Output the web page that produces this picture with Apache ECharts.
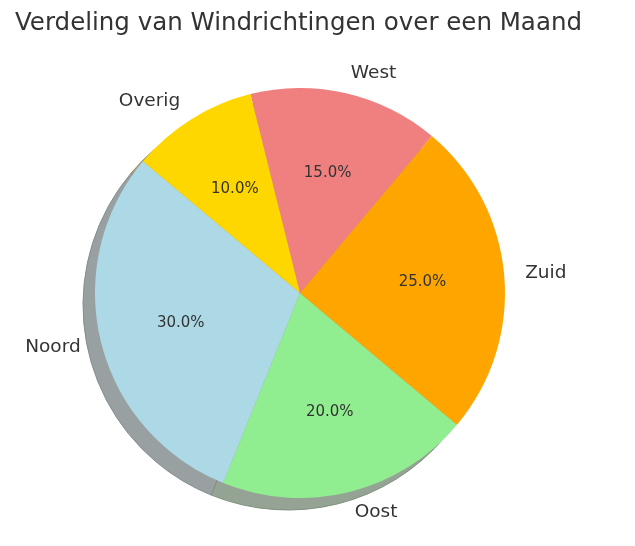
<!DOCTYPE html>
<html>
<head>
<meta charset="utf-8">
<script src="https://cdn.jsdelivr.net/npm/echarts@6/dist/echarts.min.js"></script>
<style>
html,body{margin:0;padding:0;background:#fff;}
#chart{width:635px;height:546px;}
</style>
</head>
<body>
<div id="chart"></div>
<script>
const titleText = 'Verdeling van Windrichtingen over een Maand';
const categories = ['Noord', 'Oost', 'Zuid', 'West', 'Overig'];
const values = [30, 20, 25, 15, 10];
const colors = ['#add8e6', '#90ee90', '#ffa500', '#f08080', '#ffd700'];

function shadeFill(hex) {
  const r = parseInt(hex.slice(1,3),16), g = parseInt(hex.slice(3,5),16), b = parseInt(hex.slice(5,7),16);
  const f = c => Math.round(c*0.3*0.5 + 255*0.5);
  return 'rgb(' + f(r) + ',' + f(g) + ',' + f(b) + ')';
}
function shadeEdge(hex) {
  const r = parseInt(hex.slice(1,3),16), g = parseInt(hex.slice(3,5),16), b = parseInt(hex.slice(5,7),16);
  const f = c => Math.round(c*0.3*0.6 + 255*0.4);
  return 'rgb(' + f(r) + ',' + f(g) + ',' + f(b) + ')';
}

const FONT = 'DejaVu Sans';
const cx = 300, cy = 293, R = 205;

const mainData = categories.map((n, i) => ({ name: n, value: values[i], itemStyle: { color: colors[i] } }));
const shadowData = categories.map((n, i) => ({ name: n, value: values[i], itemStyle: { color: shadeFill(colors[i]), borderColor: shadeEdge(colors[i]), borderWidth: 1 } }));
const pctData = categories.map((n, i) => ({ name: n, value: values[i] }));

const chart = echarts.init(document.getElementById('chart'), null, { renderer: 'canvas' });
chart.setOption({
  animation: false,
  backgroundColor: '#ffffff',
  title: {
    text: titleText,
    left: 10,
    top: 6,
    textStyle: { fontFamily: FONT, fontSize: 24.5, fontWeight: 'normal', color: '#333333' }
  },
  series: [
    {
      type: 'pie',
      silent: true,
      center: [cx - 12, cy + 12],
      radius: [0, R],
      startAngle: 140,
      clockwise: false,
      avoidLabelOverlap: false,
      label: { show: false },
      labelLine: { show: false },
      data: shadowData,
      z: 1
    },
    {
      type: 'pie',
      silent: true,
      center: [cx, cy],
      radius: [0, R],
      startAngle: 140,
      clockwise: false,
      avoidLabelOverlap: false,
      itemStyle: { borderWidth: 0 },
      label: {
        show: true,
        position: 'outside',
        formatter: '{b}',
        fontFamily: FONT,
        fontSize: 18.5,
        color: '#333333',
        distanceToLabelLine: 0
      },
      labelLine: { show: false, length: Math.round(R * 0.1), length2: 0 },
      data: mainData,
      z: 2
    },
    {
      type: 'pie',
      silent: true,
      center: [cx, cy],
      radius: [0, R * 1.17],
      startAngle: 140,
      clockwise: false,
      avoidLabelOverlap: false,
      itemStyle: { color: 'rgba(0,0,0,0)', borderWidth: 0 },
      label: {
        show: true,
        position: 'inside',
        formatter: p => p.percent.toFixed(1) + '%',
        fontFamily: FONT,
        fontSize: 15,
        color: '#333333',
        textBorderWidth: 0
      },
      labelLine: { show: false },
      data: pctData,
      z: 3
    }
  ]
});
</script>
</body>
</html>
